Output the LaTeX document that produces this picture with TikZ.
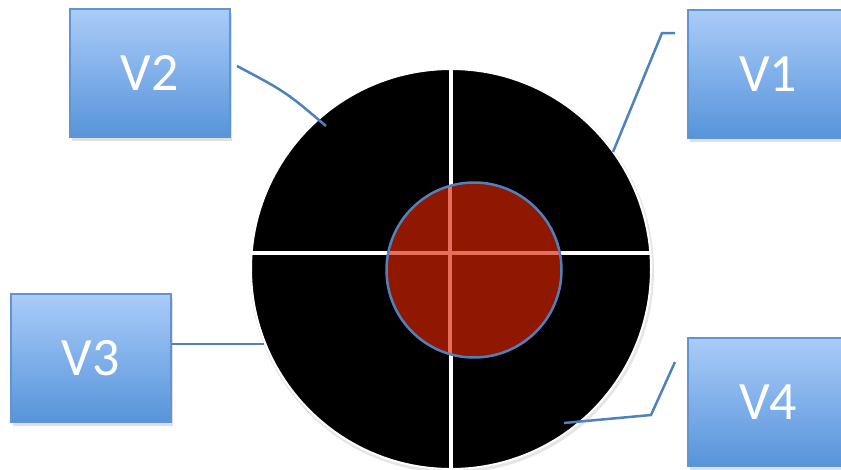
\documentclass[tikz,border=0pt]{standalone}
\usepackage{fontspec}
\setmainfont{Carlito}
\usepackage{tikz}
\usetikzlibrary{shadows, calc}
\definecolor{boxtop}{RGB}{170,204,249}
\definecolor{boxbot}{RGB}{86,148,218}
\definecolor{boxline}{RGB}{98,148,208}
\definecolor{linkblue}{RGB}{79,129,189}
\definecolor{coredark}{RGB}{144,24,0}
\definecolor{coreline}{RGB}{230,110,90}
\tikzset{
    vbox/.style={rectangle, draw=boxline, line width=1.5pt, top color=boxtop, bottom color=boxbot,
        minimum width=160, minimum height=128, text=white, font=\fontsize{54}{60}\selectfont,
        drop shadow={shadow xshift=2pt, shadow yshift=-4pt, opacity=0.25}},
    link/.style={draw=linkblue, line width=2.5pt},
}

\begin{document}
\begin{tikzpicture}[x=1pt, y=-1pt]
\useasboundingbox (0,0) rectangle (841,469);
\clip (0,0) rectangle (841,469);

% Disc with quadrants
\fill[gray!20] (452,271) circle [radius=202];
\draw[fill=black, draw=white, line width=2pt] (451,269) circle [radius=200] coordinate (disc);
\draw[white, line width=4pt] (451,69) -- (451,469);
\draw[white, line width=4pt] ($(disc)+(-199.4,-16)$) -- ($(disc)+(199.4,-16)$);

% Core
\begin{scope}
\clip (474,270) circle [radius=87.5];
\fill[coredark] (474,270) circle [radius=87.5];
\draw[coreline, line width=4pt] (450,170) -- (450,370);
\draw[coreline, line width=4pt] (380,253) -- (570,253);
\end{scope}
\draw[linkblue, line width=2.5pt] (474,270) circle [radius=87.5] coordinate (core);

% Labels
\node[vbox] (v2) at (150,73) {V2};
\node[vbox] (v1) at (768,74) {V1};
\node[vbox] (v3) at (91,358) {V3};
\node[vbox] (v4) at (768,402) {V4};

% Connector ends
\coordinate (v2a) at (237,66);
\coordinate (v2b) at (326,126);
\coordinate (v1a) at (675,33);
\coordinate (v1k) at (662,33);
\coordinate (v1b) at (613,152);
\coordinate (v3b) at (264,344);
\coordinate (v4a) at (675,362);
\coordinate (v4k) at (651,415);
\coordinate (v4b) at (564,423);

% Connectors
\draw[link] (v2a) .. controls (286,92) .. (v2b);
\draw[link] (v1a) -- (v1k) -- (v1b);
\draw[link] (v3.east |- v3b) -- (v3b);
\draw[link] (v4a) -- (v4k) -- (v4b);

\end{tikzpicture}
\end{document}
